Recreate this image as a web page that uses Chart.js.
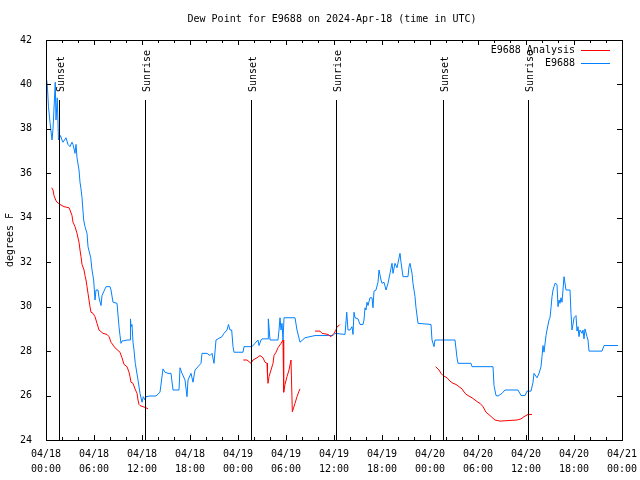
<!DOCTYPE html>
<html>
<head>
<meta charset="utf-8">
<script src="https://cdn.jsdelivr.net/npm/chart.js"></script>
<style>
  body { margin: 0; background: #fff; }
  #wrap { width: 640px; height: 480px; }
</style>
</head>
<body>
<div id="wrap"><canvas id="dewChart" width="640" height="480"></canvas></div>
<script>
// Dew point, E9688 - hours since 04/18 00:00 UTC

const xTickLabels = [
    ['04/18', '00:00'], ['04/18', '06:00'], ['04/18', '12:00'], ['04/18', '18:00'],
    ['04/19', '00:00'], ['04/19', '06:00'], ['04/19', '12:00'], ['04/19', '18:00'],
    ['04/20', '00:00'], ['04/20', '06:00'], ['04/20', '12:00'], ['04/20', '18:00'],
    ['04/21', '00:00']
];

const sunsetHours = [1.67, 25.67, 49.67];
const sunriseHours = [12.4, 36.3, 60.3];

const stationHours = [
    0.09, 0.19, 0.31, 0.5, 0.75, 0.875, 1.16, 1.25, 1.41, 1.56, 1.81, 2.0, 2.125, 2.5, 2.75, 3.0,
    3.25, 3.375, 3.625, 3.75, 3.875, 4.125, 4.25, 4.375, 4.5, 4.71, 4.875, 5.125, 5.25, 5.59, 5.75, 5.96,
    6.125, 6.25, 6.5, 6.625, 6.875, 7.0, 7.25, 7.5, 8.0, 8.125, 8.375, 8.875, 9.125, 9.25, 9.375, 9.5,
    10.125, 10.5, 10.56, 10.625, 10.75, 10.875, 11.0, 11.16, 11.5, 11.75, 12.0, 12.16, 12.375, 12.5, 13.0, 13.75,
    14.25, 14.625, 14.875, 15.25, 15.625, 15.875, 16.625, 16.75, 17.0, 17.375, 17.625, 17.75, 18.125, 18.375, 18.625, 19.375,
    19.5, 20.125, 20.5, 20.75, 21.0, 21.25, 22.0, 22.25, 22.625, 22.81, 23.0, 23.21, 23.375, 23.5, 24.625, 24.75,
    25.75, 26.125, 26.5, 26.625, 26.875, 27.0, 27.75, 27.79, 27.875, 28.0, 29.0, 29.125, 29.25, 29.375, 29.5, 29.625,
    29.75, 31.125, 31.375, 31.75, 32.375, 33.0, 33.625, 35.875, 36.125, 37.375, 37.59, 37.75, 38.0, 38.25, 38.375, 38.5,
    38.625, 39.0, 39.25, 39.625, 39.75, 39.875, 40.0, 40.125, 40.25, 40.5, 40.75, 40.875, 41.0, 41.25, 41.5, 41.625,
    41.875, 42.0, 42.25, 42.5, 42.75, 43.0, 43.25, 43.375, 43.625, 43.875, 44.25, 44.375, 44.625, 45.25, 45.375, 45.5,
    45.75, 45.875, 46.125, 46.25, 46.5, 48.125, 48.25, 48.5, 48.625, 51.125, 51.375, 51.5, 53.125, 53.25, 55.875, 56.0,
    56.25, 56.5, 57.0, 57.375, 59.0, 59.375, 59.875, 60.125, 60.625, 60.875, 61.0, 61.375, 61.625, 61.875, 62.0, 62.125,
    62.25, 62.5, 62.625, 62.875, 63.0, 63.125, 63.25, 63.375, 63.5, 63.625, 63.875, 64.0, 64.125, 64.25, 64.375, 64.5,
    64.625, 64.75, 65.0, 65.5, 65.625, 65.75, 65.875, 66.0, 66.25, 66.375, 66.5, 66.625, 66.75, 67.0, 67.125, 67.25,
    67.375, 67.625, 67.75, 67.875, 69.5, 69.75, 71.5
];
const stationDewPoint = [
    40.2, 39.8, 39.0, 38.3, 37.5, 38.0, 40.1, 38.4, 39.4, 37.5, 37.7, 37.5, 37.4, 37.6, 37.3, 37.2,
    37.4, 37.3, 36.9, 37.3, 36.7, 36.15, 35.6, 35.3, 34.9, 33.9, 33.6, 33.3, 32.7, 32.2, 31.65, 31.2,
    30.3, 30.75, 30.75, 30.4, 30.05, 30.5, 30.7, 30.9, 30.9, 30.75, 30.2, 30.15, 29.1, 28.7, 28.35, 28.45,
    28.5, 28.5, 29.45, 29.1, 29.2, 28.4, 28.05, 27.45, 26.7, 26.1, 25.7, 25.95, 25.8, 25.95, 25.98, 25.98,
    26.15, 27.2, 27.05, 27.0, 27.0, 26.25, 26.25, 27.25, 27.0, 26.7, 25.95, 26.7, 27.0, 26.6, 27.15, 27.45,
    27.9, 27.9, 27.8, 27.9, 27.45, 28.5, 28.65, 28.8, 28.95, 29.2, 28.95, 28.95, 28.2, 27.95, 27.95, 28.2,
    28.2, 28.35, 28.5, 28.25, 28.5, 28.55, 28.55, 29.45, 29.1, 28.5, 28.5, 28.95, 29.5, 28.95, 29.25, 28.5,
    29.5, 29.5, 28.95, 28.4, 28.6, 28.65, 28.7, 28.7, 28.8, 28.75, 29.75, 28.95, 28.95, 29.1, 28.75, 29.75,
    29.5, 29.45, 29.2, 29.2, 29.4, 29.95, 29.85, 30.2, 30.05, 30.4, 30.4, 29.95, 30.7, 30.75, 31.1, 31.65,
    31.2, 31.05, 31.1, 30.75, 31.05, 31.5, 31.95, 31.5, 31.95, 31.75, 32.4, 32.0, 31.35, 31.35, 31.8, 31.95,
    31.5, 31.05, 30.45, 29.95, 29.25, 29.2, 28.5, 28.2, 28.5, 28.5, 27.7, 27.45, 27.45, 27.3, 27.3, 26.45,
    26.0, 25.98, 26.1, 26.25, 26.25, 26.0, 26.0, 26.2, 26.2, 26.6, 27.0, 26.8, 27.0, 27.3, 27.75, 28.25,
    27.95, 28.7, 28.95, 29.4, 29.5, 29.95, 30.45, 30.75, 30.9, 31.05, 31.0, 30.0, 30.3, 30.15, 30.4, 30.2,
    30.75, 31.35, 30.75, 30.75, 29.7, 28.95, 29.2, 29.5, 29.6, 28.9, 29.1, 28.65, 28.95, 28.8, 28.95, 28.55,
    29.0, 28.65, 28.5, 28.0, 28.0, 28.25, 28.25
];

// null = no analysis value (gap in the line)
const analysisHours = [
    0.71, 0.875, 1.0, 1.21, 1.375, 1.75, 2.25, 2.875, 3.0, 3.25, 3.375, 3.625, 3.875, 4.125, 4.25, 4.375,
    4.5, 4.75, 4.875, 5.0, 5.125, 5.25, 5.375, 5.5, 5.625, 5.875, 6.125, 6.375, 6.625, 7.125, 7.625, 7.875,
    8.125, 8.625, 9.25, 9.5, 9.75, 10.125, 10.375, 10.5, 10.625, 10.875, 11.125, 11.375, 11.5, 11.625, 11.75, 12.125,
    12.5, 12.75, 18.0,
    24.66, 25.125, 25.625, 25.875, 26.375, 26.75, 27.125, 27.375, 27.625, 27.69, 27.75, 27.875, 28.125, 28.375, 28.5, 28.75,
    29.0, 29.375, 29.625, 29.71, 29.875, 30.125, 30.375, 30.625, 30.79, 31.125, 31.375, 31.625, 31.75, 32.5,
    33.625, 34.25, 34.5, 35.25, 35.625, 35.75, 36.0, 36.25, 36.375, 36.625, 36.75, 42.0,
    48.71, 49.125, 49.375, 49.625, 50.125, 50.5, 50.875, 51.25, 51.625, 52.0, 52.375, 52.75, 53.25, 53.625, 54.0, 54.25,
    54.625, 55.0, 55.5, 56.125, 56.75, 58.0, 58.875, 59.375, 59.75, 60.25, 60.75
];
const analysisDewPoint = [
    35.35, 35.25, 35.0, 34.8, 34.7, 34.6, 34.5, 34.45, 34.35, 34.1, 33.8, 33.6, 33.3, 32.9, 32.55, 32.25,
    31.9, 31.65, 31.4, 31.2, 30.9, 30.6, 30.3, 30.0, 29.75, 29.7, 29.55, 29.25, 28.95, 28.8, 28.75, 28.65,
    28.4, 28.15, 27.95, 27.7, 27.4, 27.3, 27.05, 26.85, 26.6, 26.55, 26.3, 26.1, 25.8, 25.6, 25.55, 25.5,
    25.45, 25.4, null,
    27.6, 27.6, 27.45, 27.6, 27.7, 27.8, 27.7, 27.5, 27.45, 26.85, 26.55, 26.85, 27.15, 27.45, 27.8, 27.95,
    28.15, 28.35, 28.5, 26.15, 26.5, 26.85, 27.15, 27.6, 25.27, 25.65, 25.95, 26.2, 26.3, null,
    28.9, 28.9, 28.8, 28.75, 28.65, 28.7, 28.8, 28.95, 29.1, 29.15, 29.2, null,
    27.3, 27.15, 27.0, 26.9, 26.8, 26.65, 26.55, 26.5, 26.4, 26.3, 26.1, 26.0, 25.9, 25.8, 25.7, 25.65,
    25.5, 25.25, 25.1, 24.9, 24.85, 24.88, 24.9, 24.95, 25.05, 25.15, 25.15
];

const RED = '#ff0000';
const BLUE = '#0080ff';
const MONO = "'DejaVu Sans Mono', 'Liberation Mono', monospace";

Chart.defaults.font.family = MONO;
Chart.defaults.font.size = 10;
Chart.defaults.color = '#000';

// frame, inward ticks, sun lines, titles, legend - gnuplot look
const gnuplotDecor = {
    id: 'gnuplotDecor',
    afterDatasetsDraw(chart) {
        const ctx = chart.ctx;
        const a = chart.chartArea;
        const xs = chart.scales.x;
        const ys = chart.scales.y;
        ctx.save();
        ctx.strokeStyle = '#000';
        ctx.lineWidth = 1;

        // sunset / sunrise markers
        ctx.fillStyle = '#000';
        ctx.font = '10px ' + MONO;
        const markers = sunsetHours.map(h => [h, 'Sunset']).concat(sunriseHours.map(h => [h, 'Sunrise']));
        markers.forEach(([h, label]) => {
            const px = Math.round(xs.getPixelForValue(h)) + 0.5;
            ctx.beginPath();
            ctx.moveTo(px, a.top + 60);
            ctx.lineTo(px, a.bottom);
            ctx.stroke();
            ctx.save();
            ctx.translate(px + 1.5, a.top + 52);
            ctx.rotate(-Math.PI / 2);
            ctx.textAlign = 'left';
            ctx.textBaseline = 'middle';
            ctx.fillText(label, 0, 0);
            ctx.restore();
        });

        // border
        ctx.strokeRect(Math.round(a.left) + 0.5, Math.round(a.top) + 0.5,
            Math.round(a.right - a.left), Math.round(a.bottom - a.top));

        // x ticks, major every 6h, minor every 2h, on bottom and top
        for (let h = 0; h <= 72; h += 2) {
            const px = Math.round(xs.getPixelForValue(h)) + 0.5;
            const len = h % 6 === 0 ? 5 : 3;
            ctx.beginPath();
            ctx.moveTo(px, a.bottom); ctx.lineTo(px, a.bottom - len);
            ctx.moveTo(px, a.top); ctx.lineTo(px, a.top + len);
            ctx.stroke();
        }
        // y ticks on left and right
        for (let v = 24; v <= 42; v += 2) {
            const py = Math.round(ys.getPixelForValue(v)) + 0.5;
            ctx.beginPath();
            ctx.moveTo(a.left, py); ctx.lineTo(a.left + 5, py);
            ctx.moveTo(a.right, py); ctx.lineTo(a.right - 5, py);
            ctx.stroke();
        }

        // title and y axis label
        ctx.textAlign = 'center';
        ctx.textBaseline = 'middle';
        ctx.fillText('Dew Point for E9688 on 2024-Apr-18 (time in UTC)', 332, 19);
        ctx.save();
        ctx.translate(10, (a.top + a.bottom) / 2);
        ctx.rotate(-Math.PI / 2);
        ctx.fillText('degrees F', 0, 0);
        ctx.restore();

        // legend, top right inside the plot
        const entries = [['E9688 Analysis', RED], ['E9688', BLUE]];
        entries.forEach(([label, color], i) => {
            const ly = a.top + 10 + i * 13;
            ctx.textAlign = 'right';
            ctx.fillStyle = '#000';
            ctx.fillText(label, a.right - 47, ly);
            ctx.strokeStyle = color;
            ctx.beginPath();
            ctx.moveTo(a.right - 41, Math.round(ly) + 0.5);
            ctx.lineTo(a.right - 12, Math.round(ly) + 0.5);
            ctx.stroke();
        });
        ctx.restore();
    }
};

const toPoints = (xsArr, ysArr) => xsArr.map((x, i) => ({ x: x, y: ysArr[i] }));

new Chart(document.getElementById('dewChart'), {
    type: 'line',
    data: {
        datasets: [
            {
                label: 'E9688 Analysis',
                data: toPoints(analysisHours, analysisDewPoint),
                borderColor: RED,
                borderWidth: 1,
                pointRadius: 0,
                spanGaps: false,
                tension: 0
            },
            {
                label: 'E9688',
                data: toPoints(stationHours, stationDewPoint),
                borderColor: BLUE,
                borderWidth: 1,
                pointRadius: 0,
                tension: 0
            }
        ]
    },
    options: {
        responsive: false,
        animation: false,
        layout: { padding: { top: 40, right: 18, left: 0, bottom: 0 } },
        plugins: { legend: { display: false }, title: { display: false }, tooltip: { enabled: false } },
        scales: {
            x: {
                type: 'linear',
                min: 0,
                max: 72,
                afterFit: s => { s.height = 40; s.paddingLeft = 0; s.paddingRight = 0; },
                grid: { display: false },
                border: { display: false },
                ticks: {
                    stepSize: 6,
                    autoSkip: false,
                    maxRotation: 0,
                    padding: -1,
                    font: { lineHeight: 1.5 },
                    callback: v => xTickLabels[v / 6]
                }
            },
            y: {
                min: 24,
                max: 42,
                afterFit: s => { s.width = 46; s.paddingTop = 0; s.paddingBottom = 0; },
                grid: { display: false },
                border: { display: false },
                ticks: { stepSize: 2, padding: 6 }
            }
        }
    },
    plugins: [gnuplotDecor]
});
</script>
</body>
</html>
